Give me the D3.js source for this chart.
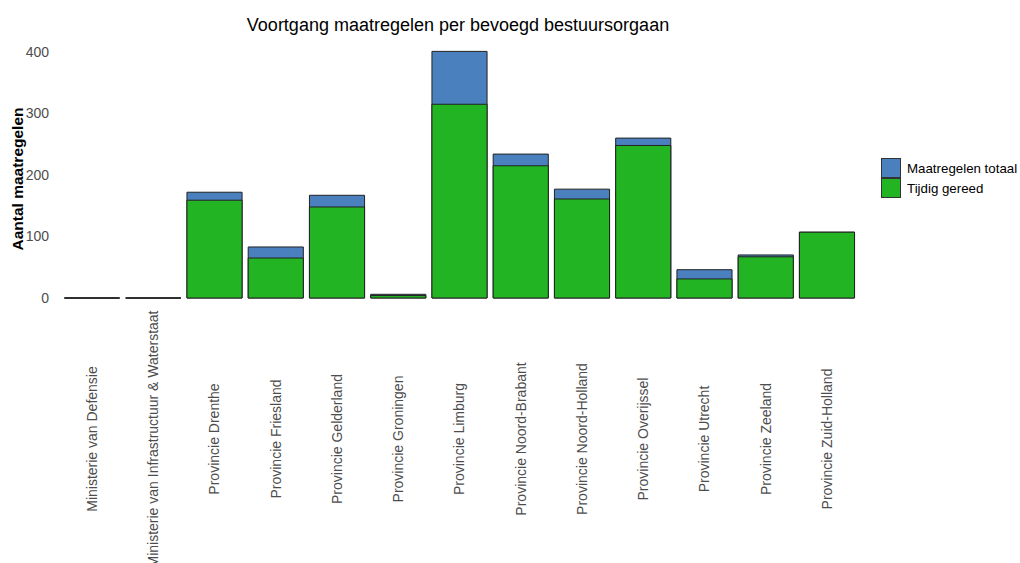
<!DOCTYPE html>
<html>
<head>
<meta charset="utf-8">
<script src="https://cdn.jsdelivr.net/npm/d3@7"></script>
<style>
  body { margin: 0; background: #fff; }
  text { font-family: "Liberation Sans", Arial, sans-serif; }
</style>
</head>
<body>
<svg width="1020" height="563"></svg>
<script>
const categories = [
  "Ministerie van Defensie",
  "Ministerie van Infrastructuur & Waterstaat",
  "Provincie Drenthe",
  "Provincie Friesland",
  "Provincie Gelderland",
  "Provincie Groningen",
  "Provincie Limburg",
  "Provincie Noord-Brabant",
  "Provincie Noord-Holland",
  "Provincie Overijssel",
  "Provincie Utrecht",
  "Provincie Zeeland",
  "Provincie Zuid-Holland"
];
const totaal = [0, 0, 172, 83, 167, 6, 401, 234, 177, 260, 46, 70, 107];
const gereed = [0, 0, 159, 65, 148, 4, 315, 215, 161, 248, 31, 67, 107];
const yTicks = [0, 100, 200, 300, 400];
const seriesNames = ["Maatregelen totaal", "Tijdig gereed"];
const colors = ["#4a80be", "#22b422"];

const svg = d3.select("svg");
const plotTop = 52, plotBottom = 298;

const x = d3.scaleBand()
  .domain(categories)
  .range([61.4, 857.6])
  .paddingInner(0.1)
  .paddingOuter(0.05);

const y = d3.scaleLinear()
  .domain([0, 400])
  .range([plotBottom, plotTop]);

const data = categories.map((c, i) => ({ cat: c, totaal: totaal[i], gereed: gereed[i] }));

function barPath(x0, w, y0, y1) {
  return `M${x0},${y0}H${x0 + w}V${y1}H${x0}Z`;
}

// total bars (behind)
svg.append("g")
  .selectAll("path")
  .data(data)
  .join("path")
  .attr("d", d => barPath(x(d.cat), x.bandwidth(), y(0), y(d.totaal)))
  .attr("fill", colors[0])
  .attr("stroke", "#222")
  .attr("stroke-width", 1);

// on-time bars (front)
svg.append("g")
  .selectAll("path")
  .data(data)
  .join("path")
  .attr("d", d => barPath(x(d.cat), x.bandwidth(), y(0), y(d.gereed)))
  .attr("fill", colors[1])
  .attr("stroke", "#222")
  .attr("stroke-width", 1);

// y axis
const yAxis = svg.append("g")
  .attr("transform", "translate(49,0)")
  .call(d3.axisLeft(y).tickValues(yTicks).tickSize(0).tickPadding(0));
yAxis.select(".domain").remove();
yAxis.selectAll("text")
  .attr("fill", "#4d4d4d")
  .style("font-size", "14px");

// x axis, labels rotated and centred below the bars
const xAxis = svg.append("g")
  .attr("transform", `translate(0,${plotBottom})`)
  .call(d3.axisBottom(x).tickSize(0).tickPadding(0));
xAxis.select(".domain").remove();
xAxis.selectAll("text")
  .attr("fill", "#4d4d4d")
  .style("font-size", "14px")
  .attr("text-anchor", "middle")
  .attr("transform", "translate(0,141) rotate(-90)")
  .attr("x", 0)
  .attr("y", 0)
  .attr("dy", "0.35em");

// title
svg.append("text")
  .attr("x", 458)
  .attr("y", 31)
  .attr("text-anchor", "middle")
  .style("font-size", "18px")
  .attr("fill", "#000")
  .text("Voortgang maatregelen per bevoegd bestuursorgaan");

// y label
svg.append("text")
  .attr("transform", `translate(23,179) rotate(-90)`)
  .attr("text-anchor", "middle")
  .style("font-size", "15.5px")
  .style("font-weight", "bold")
  .attr("fill", "#000")
  .text("Aantal maatregelen");

// legend
const legend = svg.append("g").attr("transform", "translate(881,158)");
seriesNames.forEach((s, i) => {
  legend.append("rect")
    .attr("x", 0.5)
    .attr("y", i * 20 + 0.5)
    .attr("width", 19)
    .attr("height", 19)
    .attr("fill", colors[i])
    .attr("stroke", "#333")
    .attr("stroke-width", 1);
  legend.append("text")
    .attr("x", 26)
    .attr("y", i * 20 + 10)
    .attr("dy", "0.35em")
    .style("font-size", "13.3px")
    .attr("fill", "#000")
    .text(s);
});
</script>
</body>
</html>
